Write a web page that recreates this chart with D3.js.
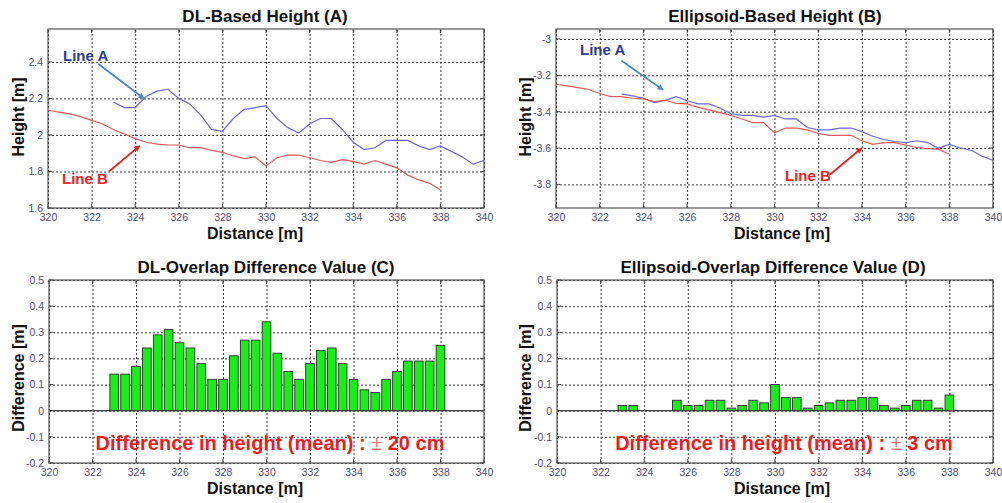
<!DOCTYPE html>
<html>
<head>
<meta charset="utf-8">
<script src="https://cdn.jsdelivr.net/npm/d3@7"></script>
<style>
  html, body { margin: 0; padding: 0; background: #fff; }
  svg { display: block; }
  text { font-family: "Liberation Sans", Arial, sans-serif; }
</style>
</head>
<body>
<svg id="chart" width="1002" height="503"></svg>
<script>
// ---------------- DATA ----------------
const xTicks = [320, 322, 324, 326, 328, 330, 332, 334, 336, 338, 340];
const dlTicksY = [1.6, 1.8, 2.0, 2.2, 2.4];
const dlTickLabels = ["1.6", "1.8", "2", "2.2", "2.4"];
const elTicksY = [-3.8, -3.6, -3.4, -3.2, -3.0];
const elTickLabels = ["-3.8", "-3.6", "-3.4", "-3.2", "-3"];
const diffTicksY = [-0.2, -0.1, 0, 0.1, 0.2, 0.3, 0.4, 0.5];
const diffTickLabels = ["-0.2", "-0.1", "0", "0.1", "0.2", "0.3", "0.4", "0.5"];

// Panel A: DL-based height
const dlLineA_x = [323,323.5,324,324.5,325,325.5,326,326.5,327,327.5,328,328.5,329,329.5,330,330.5,331,331.5,332,332.5,333,333.5,334,334.5,335,335.5,336,336.5,337,337.5,338,338.5,339,339.5,340];
const dlLineA_y = [2.18,2.15,2.15,2.21,2.24,2.25,2.20,2.17,2.11,2.03,2.02,2.09,2.14,2.15,2.16,2.09,2.04,2.01,2.06,2.09,2.09,2.03,1.96,1.92,1.93,1.97,1.97,1.97,1.94,1.92,1.94,1.91,1.88,1.84,1.86];
const dlLineB_x = [320,320.5,321,321.5,322,322.5,323,323.5,324,324.5,325,325.5,326,326.5,327,327.5,328,328.5,329,329.5,330,330.5,331,331.5,332,332.5,333,333.5,334,334.5,335,335.5,336,336.5,337,337.5,338];
const dlLineB_y = [2.135,2.125,2.115,2.10,2.08,2.06,2.03,2.005,1.98,1.96,1.95,1.945,1.945,1.93,1.93,1.915,1.905,1.885,1.87,1.88,1.83,1.875,1.89,1.89,1.875,1.86,1.85,1.865,1.855,1.84,1.86,1.84,1.82,1.78,1.755,1.735,1.70];

// Panel B: Ellipsoid-based height
const elLineA_x = [323,323.5,324,324.5,325,325.5,326,326.5,327,327.5,328,328.5,329,329.5,330,330.5,331,331.5,332,332.5,333,333.5,334,334.5,335,335.5,336,336.5,337,337.5,338,338.5,339,339.5,340];
const elLineA_y = [-3.302,-3.313,-3.326,-3.35,-3.338,-3.317,-3.34,-3.357,-3.357,-3.38,-3.41,-3.42,-3.42,-3.43,-3.42,-3.44,-3.44,-3.487,-3.50,-3.50,-3.49,-3.49,-3.51,-3.535,-3.553,-3.564,-3.57,-3.56,-3.57,-3.60,-3.58,-3.60,-3.612,-3.645,-3.667];
const elLineB_x = [320,320.5,321,321.5,322,322.5,323,323.5,324,324.5,325,325.5,326,326.5,327,327.5,328,328.5,329,329.5,330,330.5,331,331.5,332,332.5,333,333.5,334,334.5,335,335.5,336,336.5,337,337.5,338];
const elLineB_y = [-3.249,-3.258,-3.268,-3.278,-3.30,-3.317,-3.317,-3.326,-3.33,-3.345,-3.337,-3.354,-3.357,-3.376,-3.39,-3.405,-3.42,-3.44,-3.46,-3.46,-3.516,-3.49,-3.49,-3.50,-3.52,-3.53,-3.53,-3.53,-3.56,-3.58,-3.57,-3.57,-3.584,-3.597,-3.603,-3.606,-3.634];

// Panel C: DL overlap difference
const dlDiff_x = [323,323.5,324,324.5,325,325.5,326,326.5,327,327.5,328,328.5,329,329.5,330,330.5,331,331.5,332,332.5,333,333.5,334,334.5,335,335.5,336,336.5,337,337.5,338];
const dlDiff_y = [0.14,0.14,0.17,0.24,0.29,0.31,0.26,0.24,0.18,0.12,0.12,0.21,0.27,0.27,0.34,0.22,0.15,0.12,0.18,0.23,0.24,0.18,0.12,0.08,0.07,0.12,0.15,0.19,0.19,0.19,0.25];

// Panel D: Ellipsoid overlap difference
const elDiff_x = [323,323.5,325.5,326,326.5,327,327.5,328,328.5,329,329.5,330,330.5,331,331.5,332,332.5,333,333.5,334,334.5,335,335.5,336,336.5,337,337.5,338];
const elDiff_y = [0.02,0.02,0.04,0.02,0.02,0.04,0.04,0.01,0.02,0.04,0.03,0.10,0.05,0.05,0.01,0.02,0.03,0.04,0.04,0.05,0.05,0.02,0.01,0.02,0.04,0.04,0.01,0.06];

const titles = ["DL-Based Height (A)", "Ellipsoid-Based Height (B)", "DL-Overlap Difference Value (C)", "Ellipsoid-Overlap Difference Value (D)"];
const meanNotes = ["20 cm", "3 cm"];

// ---------------- DRAW ----------------
const svg = d3.select("#chart");
const defs = svg.append("defs");
function marker(id, color) {
  defs.append("marker").attr("id", id).attr("viewBox", "0 0 10 10")
    .attr("refX", 9).attr("refY", 5).attr("markerWidth", 7).attr("markerHeight", 6)
    .attr("markerUnits", "userSpaceOnUse").attr("orient", "auto")
    .append("path").attr("d", "M0,0 L10,5 L0,10 Z").attr("fill", color);
}
marker("arrBlue", "#4a86c8");
marker("arrRed", "#e62020");

const tickColor = "#4e4e6e";

function panel(cfg) {
  const x = d3.scaleLinear().domain([320, 340]).range([cfg.x0, cfg.x1]);
  const y = d3.scaleLinear().domain(cfg.yDomain).range([cfg.y1, cfg.y0]);
  const g = svg.append("g");

  // grid
  const gx = d3.axisBottom(x).tickValues(xTicks).tickSize(-(cfg.y1 - cfg.y0)).tickFormat("");
  g.append("g").attr("transform", `translate(0,${cfg.y1})`).call(gx)
    .call(s => s.select(".domain").remove())
    .call(s => s.selectAll("line").attr("stroke", "#222").attr("stroke-dasharray", "2,2").attr("stroke-width", 0.9));
  const gy = d3.axisLeft(y).tickValues(cfg.yTicks).tickSize(-(cfg.x1 - cfg.x0)).tickFormat("");
  g.append("g").attr("transform", `translate(${cfg.x0},0)`).call(gy)
    .call(s => s.select(".domain").remove())
    .call(s => s.selectAll("line").attr("stroke", "#222").attr("stroke-dasharray", "2,2").attr("stroke-width", 0.9));

  // tick labels via axes
  const ax = d3.axisBottom(x).tickValues(xTicks).tickSize(0).tickPadding(6).tickFormat(d3.format("d"));
  g.append("g").attr("transform", `translate(0,${cfg.y1})`).call(ax)
    .call(s => s.select(".domain").remove())
    .call(s => s.selectAll("text").attr("fill", tickColor).attr("font-size", 10.5).attr("font-family", "Liberation Sans, Arial"));
  const ay = d3.axisLeft(y).tickValues(cfg.yTicks).tickSize(0).tickPadding(5)
    .tickFormat((d, i) => cfg.yLabels[i]);
  g.append("g").attr("transform", `translate(${cfg.x0},0)`).call(ay)
    .call(s => s.select(".domain").remove())
    .call(s => s.selectAll("text").attr("fill", tickColor).attr("font-size", 10.5).attr("font-family", "Liberation Sans, Arial"));

  // inward small ticks
  const tk = g.append("g").attr("stroke", "#444").attr("stroke-width", 1);
  xTicks.forEach(v => {
    tk.append("line").attr("x1", x(v)).attr("x2", x(v)).attr("y1", cfg.y1).attr("y2", cfg.y1 - 4);
    tk.append("line").attr("x1", x(v)).attr("x2", x(v)).attr("y1", cfg.y0).attr("y2", cfg.y0 + 4);
  });
  cfg.yTicks.forEach(v => {
    tk.append("line").attr("x1", cfg.x0).attr("x2", cfg.x0 + 4).attr("y1", y(v)).attr("y2", y(v));
    tk.append("line").attr("x1", cfg.x1).attr("x2", cfg.x1 - 4).attr("y1", y(v)).attr("y2", y(v));
  });

  // series
  if (cfg.lines) {
    cfg.lines.forEach(L => {
      const pts = L.xs.map((xv, i) => [xv, L.ys[i]]);
      g.append("path").datum(pts)
        .attr("d", d3.line().x(d => x(d[0])).y(d => y(d[1])))
        .attr("fill", "none").attr("stroke", L.color).attr("stroke-width", 1.2);
    });
  }
  if (cfg.bars) {
    const w = Math.abs(x(320.5) - x(320)) * 0.8;
    g.append("line").attr("x1", cfg.x0).attr("x2", cfg.x1).attr("y1", y(0)).attr("y2", y(0))
      .attr("stroke", "#444").attr("stroke-width", 1.2);
    g.selectAll(null).data(cfg.bars.xs.map((xv, i) => [xv, cfg.bars.ys[i]])).enter()
      .append("rect")
      .attr("x", d => x(d[0]) - w / 2).attr("width", w)
      .attr("y", d => y(Math.max(0, d[1]))).attr("height", d => Math.abs(y(d[1]) - y(0)))
      .attr("fill", "#17f017").attr("stroke", "#2b2b2b").attr("stroke-width", 0.9);
  }

  // frame
  g.append("rect").attr("x", cfg.x0).attr("y", cfg.y0).attr("width", cfg.x1 - cfg.x0).attr("height", cfg.y1 - cfg.y0)
    .attr("fill", "none").attr("stroke", "#555").attr("stroke-width", 1.2);

  // title & labels
  svg.append("text").attr("x", cfg.titleX).attr("y", cfg.y0 - 7).attr("text-anchor", "middle")
    .attr("font-size", 17).attr("font-weight", "bold").attr("fill", "#111").text(cfg.title);
  svg.append("text").attr("x", cfg.xLabelX).attr("y", cfg.y1 + 31).attr("text-anchor", "middle")
    .attr("font-size", 16).attr("font-weight", "bold").attr("fill", "#111").text("Distance [m]");
  svg.append("text").attr("transform", `translate(${cfg.yLabelX},${cfg.yLabelY}) rotate(-90)`)
    .attr("text-anchor", "middle").attr("font-size", 16).attr("font-weight", "bold").attr("fill", "#111")
    .text(cfg.yLabel);
  return { x, y, g };
}

const pA = panel({ x0: 48, x1: 484, y0: 29, y1: 208, yDomain: [1.6, 2.58], yTicks: dlTicksY, yLabels: dlTickLabels,
  title: titles[0], titleX: 265, xLabelX: 255, yLabel: "Height [m]", yLabelX: 24, yLabelY: 117,
  lines: [{ xs: dlLineA_x, ys: dlLineA_y, color: "#6a66ee" }, { xs: dlLineB_x, ys: dlLineB_y, color: "#e65a5a" }] });
const pB = panel({ x0: 556, x1: 993, y0: 29, y1: 208, yDomain: [-3.93, -2.945], yTicks: elTicksY, yLabels: elTickLabels,
  title: titles[1], titleX: 775, xLabelX: 782, yLabel: "Height [m]", yLabelX: 531, yLabelY: 117,
  lines: [{ xs: elLineA_x, ys: elLineA_y, color: "#6a66ee" }, { xs: elLineB_x, ys: elLineB_y, color: "#e65a5a" }] });
const pC = panel({ x0: 49, x1: 484, y0: 280, y1: 463, yDomain: [-0.2, 0.5], yTicks: diffTicksY, yLabels: diffTickLabels,
  title: titles[2], titleX: 266, xLabelX: 255, yLabel: "Difference [m]", yLabelX: 24, yLabelY: 378,
  bars: { xs: dlDiff_x, ys: dlDiff_y } });
const pD = panel({ x0: 557, x1: 993, y0: 280, y1: 463, yDomain: [-0.2, 0.5], yTicks: diffTicksY, yLabels: diffTickLabels,
  title: titles[3], titleX: 773, xLabelX: 782, yLabel: "Difference [m]", yLabelX: 531, yLabelY: 378,
  bars: { xs: elDiff_x, ys: elDiff_y } });

// annotations (Line A / Line B)
function note(p, label, tx, ty, ax1, ay1, ax2, ay2, color, arrowColor, mk) {
  svg.append("text").attr("x", tx).attr("y", ty).attr("font-size", 15).attr("font-weight", "bold")
    .attr("fill", color).attr("font-family", "Liberation Sans Narrow, Liberation Sans, Arial").text(label);
  svg.append("line").attr("x1", ax1).attr("y1", ay1).attr("x2", ax2).attr("y2", ay2)
    .attr("stroke", arrowColor).attr("stroke-width", 1.8).attr("marker-end", `url(#${mk})`);
}
note(pA, "Line A", 63, 61, pA.x(322.3), pA.y(2.39), pA.x(324.4), pA.y(2.2), "#2a3c8e", "#4a86c8", "arrBlue");
note(pA, "Line B", 62, 184, pA.x(322.8), pA.y(1.8), pA.x(324.2), pA.y(1.94), "#ee2222", "#e62020", "arrRed");
note(pB, "Line A", 580, 55, pB.x(323), pB.y(-3.12), pB.x(324.9), pB.y(-3.28), "#2a3c8e", "#4a86c8", "arrBlue");
note(pB, "Line B", 785, 181, pB.x(332.5), pB.y(-3.75), pB.x(334), pB.y(-3.6), "#ee2222", "#e62020", "arrRed");

// mean difference notes
function meanNote(cx, cy, val) {
  const t = svg.append("text").attr("x", cx).attr("y", cy).attr("text-anchor", "middle")
    .attr("font-size", 20).attr("fill", "#f01c1c").attr("font-weight", "bold")
    .attr("font-family", "Liberation Sans Narrow, Liberation Sans, Arial");
  t.append("tspan").text("Difference in height (mean) : ");
  t.append("tspan").attr("fill", "#f07a7a").attr("font-weight", "normal").text("± ");
  t.append("tspan").text(val);
}
meanNote(270, 450, meanNotes[0]);
meanNote(784, 450, meanNotes[1]);
</script>
</body>
</html>
